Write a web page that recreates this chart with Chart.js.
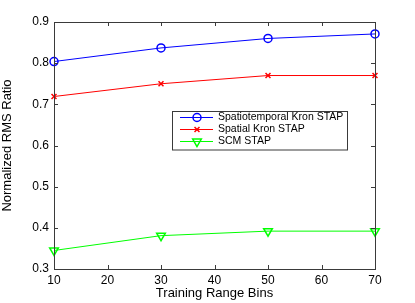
<!DOCTYPE html>
<html>
<head>
<meta charset="utf-8">
<script src="https://cdn.jsdelivr.net/npm/chart.js@4/dist/chart.umd.min.js"></script>
<style>
html,body{margin:0;padding:0;background:#fff;}
#wrap{width:415px;height:303px;position:relative;}
</style>
</head>
<body>
<div id="wrap"><canvas id="c" width="415" height="303"></canvas></div>
<script>
const trainingBins = [10, 30, 50, 70];
const spatiotemporalKron = [0.804, 0.837, 0.860, 0.871];
const spatialKron = [0.719, 0.750, 0.770, 0.770];
const scmStap = [0.345, 0.381, 0.392, 0.392];
const xTicks = [10, 20, 30, 40, 50, 60, 70];
const yTicks = [0.3, 0.4, 0.5, 0.6, 0.7, 0.8, 0.9];
const seriesNames = ["Spatiotemporal Kron STAP", "Spatial Kron STAP", "SCM STAP"];
const seriesColors = ['#0000ff', '#ff0000', '#00ff00'];

const FONT = "'Liberation Sans', Arial, sans-serif";

function pts(vals){ return trainingBins.map((x,i)=>({x:x,y:vals[i]})); }

const framePlugin = {
  id: 'frame',
  afterDatasetsDraw(chart){
    const {ctx, chartArea:a, scales} = chart;
    ctx.save();
    ctx.strokeStyle = '#3a3a3a';
    ctx.lineWidth = 1;
    ctx.strokeRect(Math.round(a.left)+0.5, Math.round(a.top)+0.5, Math.round(a.right-a.left), Math.round(a.bottom-a.top));
    const tl = 4;
    ctx.beginPath();
    xTicks.forEach(v=>{
      const x = Math.round(scales.x.getPixelForValue(v))+0.5;
      ctx.moveTo(x, a.bottom); ctx.lineTo(x, a.bottom-tl);
      ctx.moveTo(x, a.top); ctx.lineTo(x, a.top+tl);
    });
    yTicks.forEach(v=>{
      const y = Math.round(scales.y.getPixelForValue(v))+0.5;
      ctx.moveTo(a.left, y); ctx.lineTo(a.left+tl, y);
      ctx.moveTo(a.right, y); ctx.lineTo(a.right-tl, y);
    });
    ctx.stroke();
    ctx.restore();

    // legend box inside plot
    ctx.save();
    const bx = 172.5, by = 111.5, bw = 175, bh = 38.5;
    ctx.fillStyle = '#fff';
    ctx.fillRect(bx, by, bw, bh);
    ctx.strokeStyle = '#3a3a3a';
    ctx.lineWidth = 1;
    ctx.strokeRect(bx, by, bw, bh);
    ctx.restore();
    const rows = [117, 129, 141];
    chart.data.datasets.forEach((ds, i)=>{
      const y = rows[i];
      const col = seriesColors[i];
      ctx.save();
      ctx.fillStyle = col;
      ctx.fillRect(180, y, 33, 1);
      ctx.restore();
      ctx.save();
      const opt = {pointStyle: ds.pointStyle, radius: ds.pointRadius, rotation: ds.pointRotation||0, borderWidth: ds.pointBorderWidth||1};
      ctx.strokeStyle = col;
      ctx.fillStyle = 'rgba(255,255,255,0)';
      ctx.lineWidth = opt.borderWidth;
      Chart.helpers.drawPoint(ctx, opt, 197, y+0.5);
      ctx.restore();
      ctx.save();
      ctx.fillStyle = '#000';
      ctx.font = '10.5px ' + FONT;
      ctx.textBaseline = 'middle';
      ctx.textAlign = 'left';
      ctx.fillText(ds.label, 218, y+0.5);
      ctx.restore();
    });
  }
};

new Chart(document.getElementById('c'), {
  type: 'line',
  data: {
    datasets: [
      {label: seriesNames[0], data: pts(spatiotemporalKron), borderColor:seriesColors[0], backgroundColor:'rgba(0,0,0,0)', borderWidth:1, pointStyle:'circle', pointRadius:4, pointBorderWidth:1.5, pointBorderColor:seriesColors[0], pointBackgroundColor:'rgba(0,0,0,0)', clip:false},
      {label: seriesNames[1], data: pts(spatialKron), borderColor:seriesColors[1], backgroundColor:'rgba(0,0,0,0)', borderWidth:1, pointStyle:'crossRot', pointRadius:3.5, pointBorderWidth:1.5, pointBorderColor:seriesColors[1], clip:false},
      {label: seriesNames[2], data: pts(scmStap), borderColor:seriesColors[2], backgroundColor:'rgba(0,0,0,0)', borderWidth:1, pointStyle:'triangle', pointRotation:180, pointRadius:5, pointBorderWidth:1.5, pointBorderColor:seriesColors[2], pointBackgroundColor:'rgba(0,0,0,0)', clip:false}
    ]
  },
  options: {
    responsive:false,
    animation:false,
    devicePixelRatio:1,
    layout:{padding:{left:0, top:22, right:40, bottom:0}},
    plugins:{legend:{display:false}, tooltip:{enabled:false}},
    elements:{line:{tension:0}},
    scales:{
      x:{
        type:'linear', min:10, max:70,
        afterBuildTicks(s){ s.ticks = xTicks.map(v=>({value:v})); },
        afterFit(s){ s.height = 34; },
        grid:{display:false, drawTicks:false},
        border:{display:false},
        ticks:{color:'#000', padding:4, font:{family:FONT, size:12}, maxRotation:0, autoSkip:false},
        title:{display:true, text:'Training Range Bins', color:'#000', font:{family:FONT, size:13}, padding:{top:0, bottom:2}}
      },
      y:{
        type:'linear', min:0.3, max:0.9,
        afterBuildTicks(s){ s.ticks = yTicks.map(v=>({value:v})); },
        afterFit(s){ s.width = 54; },
        grid:{display:false, drawTicks:false},
        border:{display:false},
        ticks:{color:'#000', padding:5, font:{family:FONT, size:12}, callback:(v)=>v.toFixed(1)},
        title:{display:true, text:'Normalized RMS Ratio', color:'#000', font:{family:FONT, size:13}, padding:{top:0, bottom:2}}
      }
    }
  },
  plugins:[framePlugin]
});
</script>
</body>
</html>
